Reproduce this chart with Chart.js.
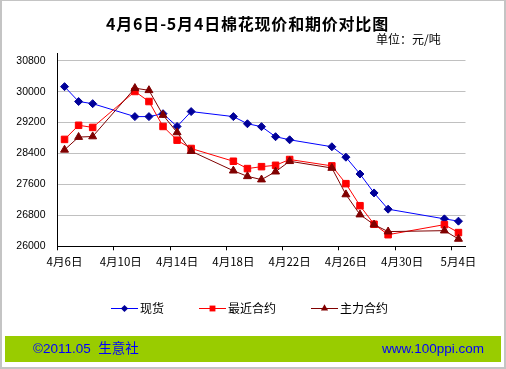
<!DOCTYPE html>
<html>
<head>
<meta charset="utf-8">
<script src="https://cdn.jsdelivr.net/npm/chart.js@4"></script>
<style>
    html, body { margin: 0; padding: 0; background: #fff; }
    body { width: 506px; height: 369px; position: relative; overflow: hidden;
           font-family: "Noto Sans CJK SC", "Liberation Sans", sans-serif; }
    .frame { position: absolute; left: 0; top: 0; width: 506px; height: 369px; box-sizing: border-box;
             border: 2px solid #c4c4c4; border-top-width: 1px; }
    #chart { position: absolute; left: 0; top: 0; }
    .title { position: absolute; left: 0; width: 495px; top: 11px; text-align: center;
             font-size: 16px; font-weight: bold; line-height: 24px; letter-spacing: 0.8px; }
    .unit { position: absolute; left: 376px; top: 31px; font-size: 12px; line-height: 16px; }
    .legend-item { position: absolute; top: 300px; height: 16px; }
    .legend-item canvas { position: absolute; left: 0; top: 4px; }
    .legend-item span { position: absolute; top: 0; font-size: 12px; line-height: 16px; white-space: nowrap; }
    .footer { position: absolute; left: 5px; top: 336px; width: 496px; height: 26px; background: #99cc00;
              color: #0000ff; font-size: 13.5px; line-height: 26px; font-family: "Liberation Sans", "Noto Sans CJK SC", sans-serif; }
    .footer .l { position: absolute; left: 28px; top: 0; }
    .footer .r { position: absolute; right: 17px; top: 0; }
</style>
</head>
<body>
<canvas id="chart" width="506" height="369"></canvas>
<div class="title">4月6日-5月4日棉花现价和期价对比图</div>
<div class="unit">单位：元/吨</div>
<div id="legend"></div>
<div class="footer"><span class="l">©2011.05&nbsp;&nbsp;生意社</span><span class="r">www.100ppi.com</span></div>
<div class="frame"></div>

<script>
// ===== DATA =====
const startDate = '2011-04-06';
const dates = ['04-06','04-07','04-08','04-11','04-12','04-13','04-14','04-15','04-18','04-19',
               '04-20','04-21','04-22','04-25','04-26','04-27','04-28','04-29','05-03','05-04'];

const spotPrice    = [30130, 29745, 29690, 29355, 29355, 29430, 29100, 29485, 29355, 29170,
                      29095, 28835, 28755, 28575, 28305, 27870, 27380, 26960, 26710, 26650];
const nearContract = [28765, 29130, 29075, 30005, 29745, 29100, 28745, 28530, 28200, 28010,
                      28060, 28095, 28245, 28080, 27620, 27050, 26570, 26300, 26560, 26355];
const mainContract = [28495, 28825, 28840, 30090, 30035, 29395, 28945, 28460, 27955, 27810,
                      27725, 27930, 28200, 28025, 27340, 26820, 26560, 26380, 26405, 26190];

const seriesNames = ['现货', '最近合约', '主力合约'];
const xTickLabels = ['4月6日', '4月10日', '4月14日', '4月18日', '4月22日', '4月26日', '4月30日', '5月4日'];
const yTicks = [26000, 26800, 27600, 28400, 29200, 30000, 30800];

// ===== HELPERS =====
const DAY = 24 * 3600 * 1000;
function dayIndex(md) {
    const t0 = Date.UTC(2011, 3, 6);
    const [m, d] = md.split('-').map(Number);
    return Math.round((Date.UTC(2011, m - 1, d) - t0) / DAY);
}
const xs = dates.map(dayIndex);
const toPoints = arr => arr.map((v, i) => ({ x: xs[i], y: v }));

const styles = [
    { line: '#0000ff', fill: '#000099', shape: 'rectRot',  r: 4 },
    { line: '#ff0000', fill: '#ff0000', shape: 'rect',     r: 4.6 },
    { line: '#800000', fill: '#800000', shape: 'triangle', r: 4.6 }
];
const values = [spotPrice, nearContract, mainContract];

const datasets = values.map((arr, i) => ({
    label: seriesNames[i],
    data: toPoints(arr),
    borderColor: styles[i].line,
    borderWidth: 1,
    backgroundColor: styles[i].fill,
    pointStyle: styles[i].shape,
    pointRadius: styles[i].r,
    pointBackgroundColor: styles[i].fill,
    pointBorderColor: styles[i].fill,
    pointBorderWidth: 1,
    tension: 0,
    clip: false,
    order: 3 - i
}));

// ===== CHART =====
new Chart(document.getElementById('chart'), {
    type: 'line',
    data: { datasets },
    options: {
        responsive: false,
        devicePixelRatio: 1,
        animation: false,
        layout: { padding: { left: 0, top: 53, right: 40.5, bottom: 92.7 } },
        plugins: { legend: { display: false }, tooltip: { enabled: false } },
        scales: {
            x: {
                type: 'linear',
                min: -0.5,
                max: 28.5,
                afterBuildTicks: s => {
                    s.ticks = xTickLabels.map((_, i) => ({ value: -0.5 + i * 4 }));
                },
                afterFit: s => { s.height = 30; },
                grid: { display: true, drawOnChartArea: false, drawTicks: true, tickLength: 4, color: '#000' },
                border: { display: true, color: '#000', width: 1 },
                ticks: {
                    autoSkip: false,
                    maxRotation: 0,
                    labelOffset: 7,
                    padding: 4,
                    color: '#000',
                    font: { family: '"Noto Sans CJK SC"', size: 11.5 },
                    callback: (v, i) => xTickLabels[i]
                }
            },
            y: {
                min: 26000,
                max: 31000,
                afterBuildTicks: s => { s.ticks = yTicks.map(v => ({ value: v })); },
                afterFit: s => { s.width = 57.5; },
                grid: { color: '#c0c0c0', drawTicks: false, lineWidth: 1 },
                border: { display: true, color: '#000', width: 1 },
                ticks: {
                    padding: 12,
                    color: '#000',
                    font: { family: '"Liberation Sans", Arial', size: 10.5 },
                    callback: v => String(v)
                }
            }
        }
    }
});

// ===== LEGEND =====
function drawMarker(ctx, shape, x, y, r) {
    ctx.beginPath();
    if (shape === 'rectRot') {
        ctx.moveTo(x, y - r); ctx.lineTo(x + r, y); ctx.lineTo(x, y + r); ctx.lineTo(x - r, y);
    } else if (shape === 'rect') {
        const s = r * Math.SQRT1_2;
        ctx.rect(x - s, y - s, 2 * s, 2 * s);
    } else {
        ctx.moveTo(x, y - r);
        ctx.lineTo(x + r * Math.sin(2 * Math.PI / 3), y - r * Math.cos(2 * Math.PI / 3));
        ctx.lineTo(x + r * Math.sin(4 * Math.PI / 3), y - r * Math.cos(4 * Math.PI / 3));
    }
    ctx.closePath();
    ctx.fill();
}

const legendX = [111, 199, 311];
const legendEl = document.getElementById('legend');
seriesNames.forEach((name, i) => {
    const item = document.createElement('div');
    item.className = 'legend-item';
    item.style.left = legendX[i] + 'px';
    const c = document.createElement('canvas');
    c.width = 27; c.height = 9;
    const ctx = c.getContext('2d');
    ctx.strokeStyle = styles[i].line;
    ctx.lineWidth = 1;
    ctx.beginPath(); ctx.moveTo(0, 4.5); ctx.lineTo(27, 4.5); ctx.stroke();
    ctx.fillStyle = styles[i].fill;
    drawMarker(ctx, styles[i].shape, 13.5, 4.5, styles[i].r * 0.9);
    const t = document.createElement('span');
    t.textContent = name;
    t.style.left = '29px';
    item.appendChild(c);
    item.appendChild(t);
    legendEl.appendChild(item);
});
</script>
</body>
</html>
